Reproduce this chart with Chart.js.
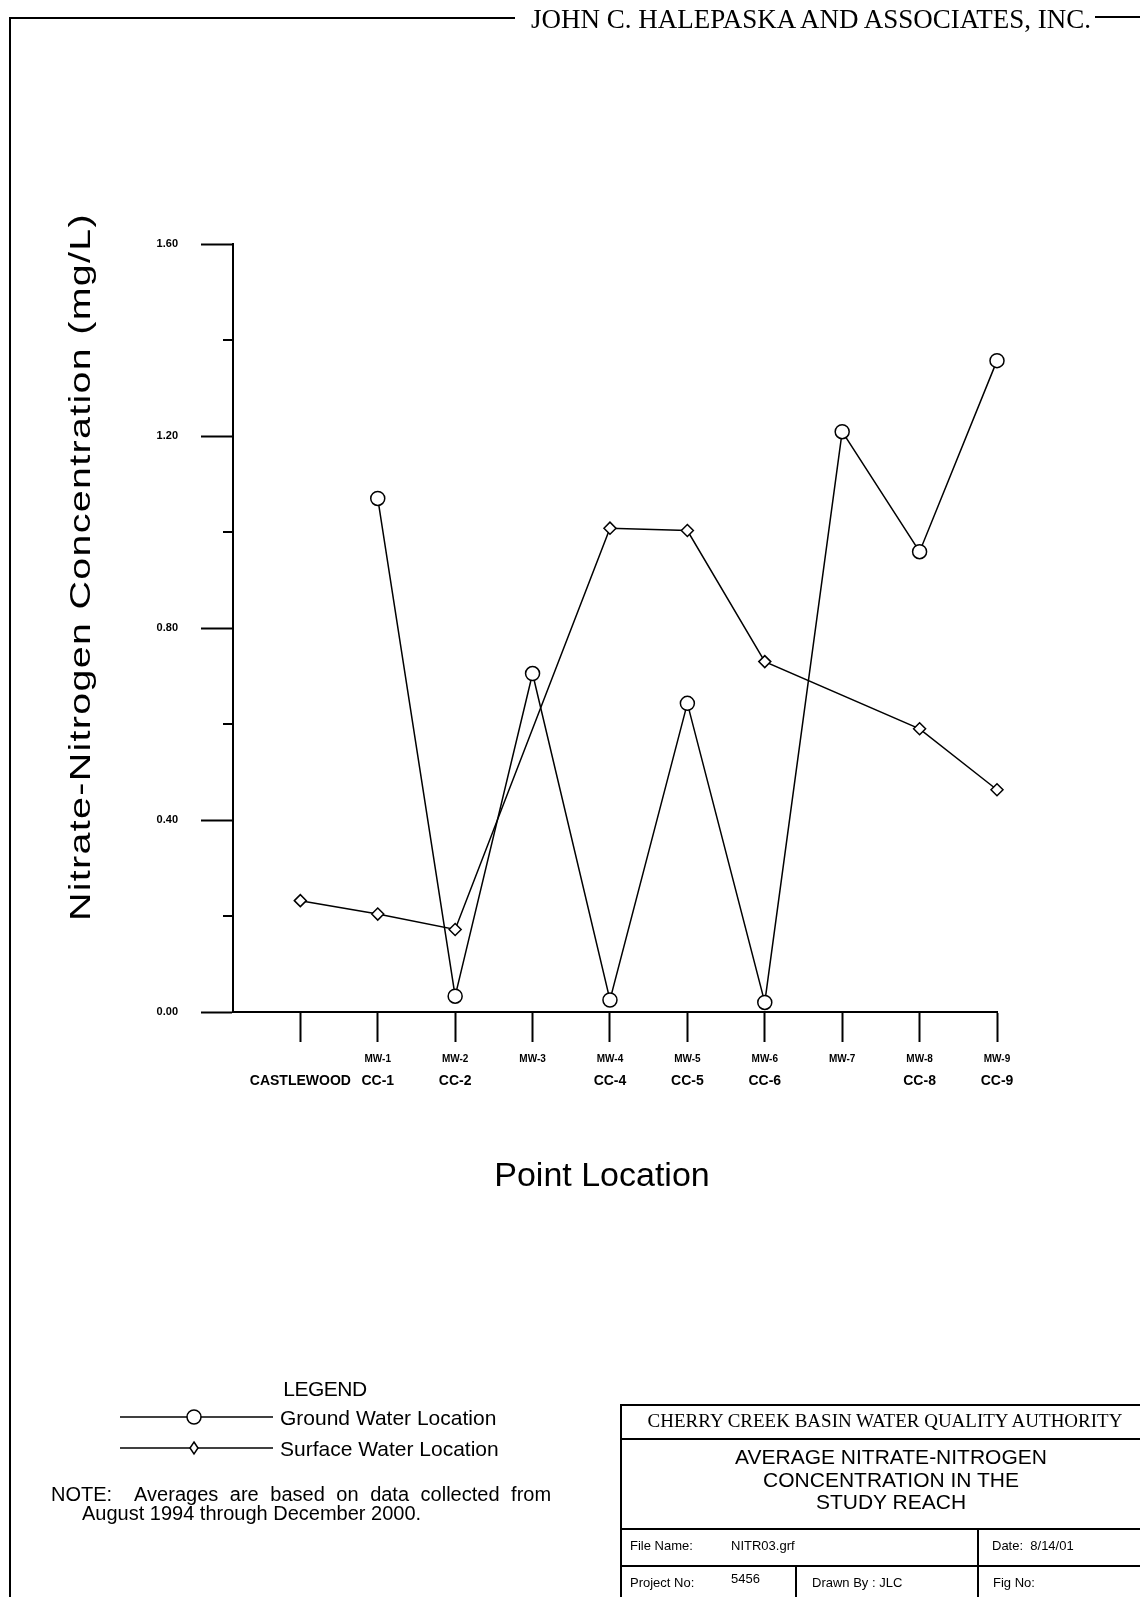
<!DOCTYPE html>
<html>
<head>
<meta charset="utf-8">
<script src="https://cdn.jsdelivr.net/npm/chart.js@4/dist/chart.umd.min.js"></script>
<style>
  html, body { margin: 0; padding: 0; background: #fff; }
  #page { position: relative; width: 1140px; height: 1597px; overflow: hidden; }
  #chart { position: absolute; left: 0; top: 0; }
  .t { position: absolute; white-space: pre; color: #000; line-height: 1;
       font-family: "Liberation Sans", Arial, sans-serif; transform: translateY(-50%); }
  .c { transform: translate(-50%, -50%); }
  .serif { font-family: "Liberation Serif", "Times New Roman", serif; }
</style>
</head>
<body>
<div id="page">
  <canvas id="chart" width="1140" height="1597"></canvas>

  <div class="t serif" style="left:531px; top:19px; font-size:27px;">JOHN C. HALEPASKA AND ASSOCIATES, INC.</div>

  <div class="t c" style="left:602px; top:1174px; font-size:34px;">Point Location</div>

  <div class="t c" style="left:325px; top:1388px; font-size:21px; letter-spacing:-0.5px;">LEGEND</div>
  <div class="t" style="left:280px; top:1417px; font-size:21px;">Ground Water Location</div>
  <div class="t" style="left:280px; top:1448px; font-size:21px;">Surface Water Location</div>

  <div class="t" style="left:51px; top:1494px; font-size:20px; word-spacing:6px;">NOTE:  Averages are based on data collected from</div>
  <div class="t" style="left:82px; top:1513px; font-size:20px;">August 1994 through December 2000.</div>

  <div class="t c serif" style="left:885px; top:1420px; font-size:19px;">CHERRY CREEK BASIN WATER QUALITY AUTHORITY</div>
  <div class="t c" style="left:891px; top:1456px; font-size:21px;">AVERAGE NITRATE-NITROGEN</div>
  <div class="t c" style="left:891px; top:1479px; font-size:21px;">CONCENTRATION IN THE</div>
  <div class="t c" style="left:891px; top:1501px; font-size:21px;">STUDY REACH</div>
  <div class="t" style="left:630px; top:1545px; font-size:13px;">File Name:</div>
  <div class="t" style="left:731px; top:1545px; font-size:13px;">NITR03.grf</div>
  <div class="t" style="left:992px; top:1545px; font-size:13px;">Date:  8/14/01</div>
  <div class="t" style="left:630px; top:1582px; font-size:13px;">Project No:</div>
  <div class="t" style="left:731px; top:1578px; font-size:13px;">5456</div>
  <div class="t" style="left:812px; top:1582px; font-size:13px;">Drawn By : JLC</div>
  <div class="t" style="left:993px; top:1582px; font-size:13px;">Fig No:</div>
</div>

<script>
// sampling locations, upstream to downstream
const wellLabels = ["", "MW-1", "MW-2", "MW-3", "MW-4", "MW-5", "MW-6", "MW-7", "MW-8", "MW-9"];
const streamLabels = ["CASTLEWOOD", "CC-1", "CC-2", "", "CC-4", "CC-5", "CC-6", "", "CC-8", "CC-9"];

// average nitrate-nitrogen, mg/L
const groundWater = [null, 1.07, 0.033, 0.705, 0.025, 0.643, 0.02, 1.209, 0.959, 1.357];
const surfaceWater = [0.232, 0.204, 0.172, null, 1.008, 1.003, 0.73, null, 0.59, 0.463];

const yTicks = [0, 0.4, 0.8, 1.2, 1.6];
const yMinorTicks = [0.2, 0.6, 1.0, 1.4];

const FONT = '"Liberation Sans", Arial, sans-serif';
const Y_TITLE = "Nitrate-Nitrogen Concentration (mg/L)";

const toPoints = (arr) => arr.map((v, i) => ({ x: i, y: v }));
const xTickList = (s) => { s.ticks = wellLabels.map((_, i) => ({ value: i })); };

const sheet = {
  id: "sheet",
  afterDraw(chart) {
    const { ctx, chartArea, scales: { y } } = chart;
    ctx.save();
    ctx.strokeStyle = "#000";
    ctx.fillStyle = "#fff";

    // minor ticks on the concentration axis
    ctx.lineWidth = 2;
    yMinorTicks.forEach((v) => {
      const py = Math.round(y.getPixelForValue(v));
      ctx.beginPath();
      ctx.moveTo(chartArea.left - 10, py);
      ctx.lineTo(chartArea.left, py);
      ctx.stroke();
    });

    // y title, stretched like the plotter output
    ctx.save();
    ctx.fillStyle = "#000";
    ctx.font = "30px " + FONT;
    if ("letterSpacing" in ctx) ctx.letterSpacing = "1px";
    const w = ctx.measureText(Y_TITLE).width;
    ctx.translate(82, 567);
    ctx.rotate(-Math.PI / 2);
    ctx.scale(708 / w, 1);
    ctx.textAlign = "center";
    ctx.textBaseline = "middle";
    ctx.fillText(Y_TITLE, 0, 0);
    ctx.restore();

    // drawing frame
    ctx.beginPath();
    ctx.moveTo(10, 1597);
    ctx.lineTo(10, 18);
    ctx.lineTo(515, 18);
    ctx.moveTo(1095, 17);
    ctx.lineTo(1140, 17);
    ctx.stroke();

    // title block
    ctx.beginPath();
    ctx.moveTo(1140, 1405); ctx.lineTo(621, 1405); ctx.lineTo(621, 1597);
    ctx.moveTo(621, 1439); ctx.lineTo(1140, 1439);
    ctx.moveTo(621, 1529); ctx.lineTo(1140, 1529);
    ctx.moveTo(621, 1566); ctx.lineTo(1140, 1566);
    ctx.moveTo(978, 1529); ctx.lineTo(978, 1597);
    ctx.moveTo(796, 1566); ctx.lineTo(796, 1597);
    ctx.stroke();

    // legend samples
    ctx.lineWidth = 1.5;
    [1417, 1448].forEach((ly) => {
      ctx.beginPath();
      ctx.moveTo(120, ly);
      ctx.lineTo(273, ly);
      ctx.stroke();
    });
    ctx.beginPath();
    ctx.arc(194, 1417, 7, 0, Math.PI * 2);
    ctx.fill();
    ctx.stroke();
    ctx.beginPath();
    ctx.moveTo(194, 1448 - 6); ctx.lineTo(198, 1448); ctx.lineTo(194, 1448 + 6); ctx.lineTo(190, 1448);
    ctx.closePath();
    ctx.fill();
    ctx.stroke();

    ctx.restore();
  },
};

new Chart(document.getElementById("chart"), {
  type: "line",
  data: {
    datasets: [
      {
        label: "Ground Water Location",
        data: toPoints(groundWater),
        borderColor: "#000",
        borderWidth: 1.5,
        pointStyle: "circle",
        pointRadius: 7,
        pointBorderWidth: 1.5,
        pointBackgroundColor: "#fff",
        pointBorderColor: "#000",
        clip: false,
      },
      {
        label: "Surface Water Location",
        data: toPoints(surfaceWater),
        spanGaps: true,
        borderColor: "#000",
        borderWidth: 1.5,
        pointStyle: "rectRot",
        pointRadius: 6,
        pointBorderWidth: 1.5,
        pointBackgroundColor: "#fff",
        pointBorderColor: "#000",
        clip: false,
      },
    ],
  },
  options: {
    responsive: false,
    animation: false,
    devicePixelRatio: 1,
    layout: { padding: { left: 0, top: 244, right: 143, bottom: 497 } },
    plugins: { legend: { display: false }, tooltip: { enabled: false } },
    scales: {
      x: {
        type: "linear",
        position: "bottom",
        weight: 0,
        min: -0.87,
        max: 9,
        afterBuildTicks: xTickList,
        afterFit: (s) => { s.height = 54; },
        grid: { drawOnChartArea: false, tickLength: 30, tickColor: "#000", tickWidth: 2 },
        border: { color: "#000", width: 2 },
        ticks: {
          autoSkip: false,
          maxRotation: 0,
          padding: 11,
          color: "#000",
          font: { family: FONT, size: 10, weight: "bold", lineHeight: "12px" },
          callback: (v) => wellLabels[v],
        },
      },
      x2: {
        type: "linear",
        position: "bottom",
        weight: 1,
        min: -0.87,
        max: 9,
        afterBuildTicks: xTickList,
        afterFit: (s) => { s.height = 34; },
        grid: { display: false, drawTicks: false },
        border: { display: false },
        ticks: {
          autoSkip: false,
          maxRotation: 0,
          padding: 7,
          color: "#000",
          font: { family: FONT, size: 14, weight: "bold", lineHeight: "16px" },
          callback: (v) => streamLabels[v],
        },
      },
      y: {
        min: 0,
        max: 1.6,
        afterBuildTicks: (s) => { s.ticks = yTicks.map((v) => ({ value: v })); },
        afterFit: (s) => { s.width = 233; },
        grid: { drawOnChartArea: false, tickLength: 32, tickColor: "#000", tickWidth: 2 },
        border: { color: "#000", width: 2 },
        ticks: {
          padding: 23,
          color: "#000",
          font: { family: FONT, size: 11, weight: "bold" },
          callback: (v) => v.toFixed(2),
        },
      },
    },
  },
  plugins: [sheet],
});
</script>
</body>
</html>
